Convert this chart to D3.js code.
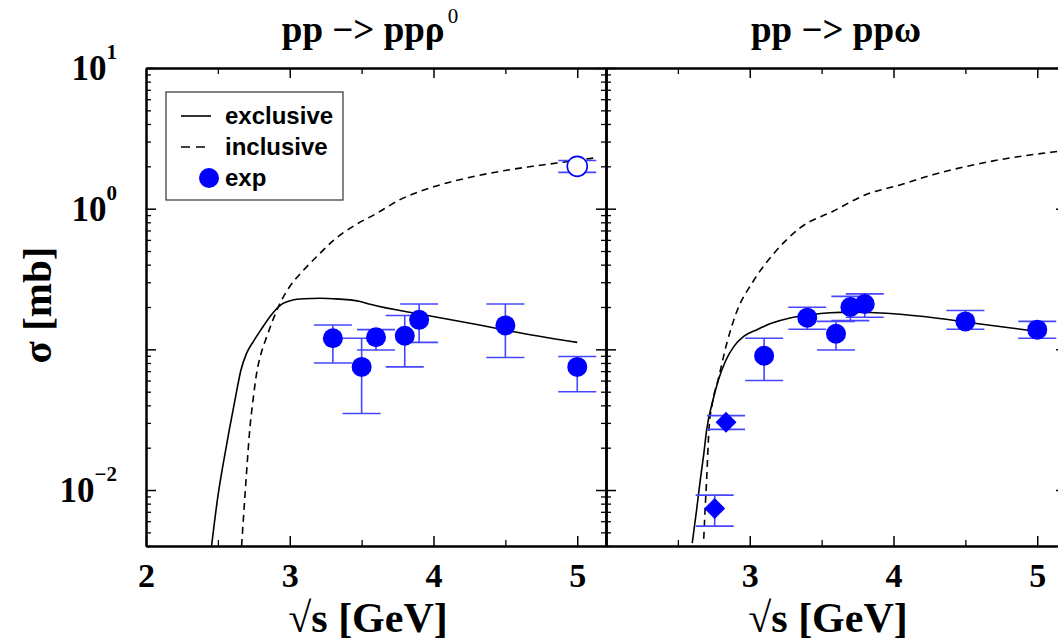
<!DOCTYPE html>
<html><head><meta charset="utf-8">
<script src="https://cdn.jsdelivr.net/npm/d3@7"></script>
<style>body{margin:0;background:#fff;overflow:hidden}</style>
</head><body>
<svg id="c" width="1058" height="642"></svg>
<script>
// ---- data ----
const xTicksMajor = [2, 3, 4, 5];
const xTicksMinor = [2.5, 3.5, 4.5];
const xLabelsLeft = [2, 3, 4, 5];
const xLabelsRight = [3, 4, 5];
const yTicksMajor = [0.01, 0.1, 1, 10];
const yTicksMinor = [0.004,0.005,0.006,0.007,0.008,0.009,0.02,0.03,0.04,0.05,0.06,0.07,0.08,0.09,0.2,0.3,0.4,0.5,0.6,0.7,0.8,0.9,2,3,4,5,6,7,8,9];
const yLabelExps = [1, 0, -2];

const rhoExclX = [2.456, 2.50, 2.54, 2.58, 2.625, 2.66, 2.70, 2.75, 2.80, 2.87, 2.94, 3.02, 3.1, 3.21, 3.3, 3.49, 3.56, 3.93, 4.32, 4.55, 5.0];
const rhoExclY = [0.004, 0.009, 0.016, 0.027, 0.047, 0.071, 0.094, 0.115, 0.138, 0.175, 0.208, 0.224, 0.229, 0.231, 0.229, 0.219, 0.209, 0.176, 0.149, 0.134, 0.112];
const rhoInclX = [2.665, 2.688, 2.705, 2.722, 2.745, 2.77, 2.80, 2.84, 2.93, 3.0, 3.09, 3.2, 3.3, 3.45, 3.6, 3.76, 4.0, 4.23, 4.46, 4.69, 4.9, 5.13];
const rhoInclY = [0.004, 0.009, 0.016, 0.027, 0.044, 0.068, 0.093, 0.123, 0.21, 0.28, 0.36, 0.47, 0.59, 0.76, 0.92, 1.15, 1.43, 1.65, 1.84, 2.0, 2.14, 2.3];
const omegaExclX = [2.60, 2.63, 2.656, 2.68, 2.70, 2.745, 2.783, 2.83, 2.89, 2.96, 3.05, 3.15, 3.28, 3.42, 3.56, 3.7, 3.84, 4.0, 4.21, 4.55, 5.0];
const omegaExclY = [0.0042, 0.0072, 0.0118, 0.018, 0.0267, 0.044, 0.061, 0.082, 0.105, 0.124, 0.138, 0.153, 0.167, 0.176, 0.182, 0.184, 0.183, 0.179, 0.171, 0.154, 0.134];
const omegaInclX = [2.68, 2.69, 2.70, 2.716, 2.74, 2.78, 2.84, 2.91, 3.02, 3.16, 3.35, 3.58, 3.81, 4.05, 4.28, 4.51, 4.74, 5.11, 5.2];
const omegaInclY = [0.0045, 0.0075, 0.0118, 0.0267, 0.0414, 0.0607, 0.11, 0.186, 0.30, 0.47, 0.73, 0.96, 1.26, 1.48, 1.75, 2.0, 2.23, 2.53, 2.6];

const rhoExpX  = [3.3, 3.5, 3.6, 3.8, 3.9, 4.5, 5.0];
const rhoExpY  = [0.120, 0.075, 0.122, 0.125, 0.162, 0.148, 0.075];
const rhoExpHi = [0.149, 0.120, 0.138, 0.174, 0.210, 0.210, 0.089];
const rhoExpLo = [0.080, 0.035, 0.099, 0.075, 0.112, 0.0875, 0.050];
const rhoOpenX = [5.0], rhoOpenY = [2.0], rhoOpenHi = [2.2], rhoOpenLo = [1.81];

const omegaExpX  = [3.1, 3.4, 3.6, 3.7, 3.8, 4.5, 5.0];
const omegaExpY  = [0.090, 0.168, 0.129, 0.200, 0.210, 0.158, 0.138];
const omegaExpHi = [0.120, 0.199, 0.158, 0.238, 0.248, 0.189, 0.158];
const omegaExpLo = [0.060, 0.139, 0.099, 0.160, 0.169, 0.139, 0.120];
const omegaDiaX  = [2.835, 2.756];
const omegaDiaY  = [0.0303, 0.0074];
const omegaDiaHi = [0.0338, 0.0092];
const omegaDiaLo = [0.0270, 0.00554];

const legendLabels = ["exclusive", "inclusive", "exp"];

// ---- drawing ----
const svg = d3.select('#c');
const Y0 = 68, Y1 = 546;
const y = d3.scaleLog().domain([0.004, 10]).range([Y1, Y0]);
const serif = '"Liberation Serif","Times New Roman",serif';
const sans = '"Liberation Sans",Arial,Helvetica,sans-serif';
const BLUE = '#0000ff', EBLUE = '#4646ff';

const panels = [
  {x0:146, x1:606, title:'pp −> ppρ', sup:'0', labels:xLabelsLeft,
   excl:[rhoExclX, rhoExclY], incl:[rhoInclX, rhoInclY],
   pts:[{X:rhoExpX,Y:rhoExpY,H:rhoExpHi,L:rhoExpLo,kind:'dot'},
        {X:rhoOpenX,Y:rhoOpenY,H:rhoOpenHi,L:rhoOpenLo,kind:'open'}]},
  {x0:606, x1:1066, title:'pp −> ppω', sup:'', labels:xLabelsRight,
   excl:[omegaExclX, omegaExclY], incl:[omegaInclX, omegaInclY],
   pts:[{X:omegaExpX,Y:omegaExpY,H:omegaExpHi,L:omegaExpLo,kind:'dot'},
        {X:omegaDiaX,Y:omegaDiaY,H:omegaDiaHi,L:omegaDiaLo,kind:'dia'}]}
];

panels.forEach((p, i) => {
  const x = d3.scaleLinear().domain([2, 5.2]).range([p.x0, p.x1]);
  const g = svg.append('g');
  const cid = 'clip' + i;
  svg.append('clipPath').attr('id', cid).append('rect')
    .attr('x', p.x0).attr('y', Y0).attr('width', p.x1 - p.x0).attr('height', Y1 - Y0);

  // axes
  const axG = g.append('g');
  const styleAx = (sel, w) => { sel.selectAll('path').attr('stroke','#000').attr('stroke-width',2);
                                sel.selectAll('line').attr('stroke','#000').attr('stroke-width',w); };
  let a = axG.append('g').attr('transform',`translate(0,${Y1})`)
    .call(d3.axisBottom(x).tickValues(xTicksMajor).tickSizeInner(-10).tickSizeOuter(0).tickPadding(17)
      .tickFormat(d => p.labels.includes(d) ? d : ''));
  styleAx(a, 1.5);
  a.selectAll('text').attr('font-family', serif).attr('font-weight','bold').attr('font-size',34).attr('fill','#000');
  a = axG.append('g').attr('transform',`translate(0,${Y1})`)
    .call(d3.axisBottom(x).tickValues(xTicksMinor).tickSizeInner(-6).tickSizeOuter(0).tickFormat(''));
  styleAx(a, 1.3);
  a = axG.append('g').attr('transform',`translate(0,${Y0})`)
    .call(d3.axisTop(x).tickValues(xTicksMajor).tickSizeInner(-10).tickSizeOuter(0).tickFormat(''));
  styleAx(a, 1.5);
  a = axG.append('g').attr('transform',`translate(0,${Y0})`)
    .call(d3.axisTop(x).tickValues(xTicksMinor).tickSizeInner(-6).tickSizeOuter(0).tickFormat(''));
  styleAx(a, 1.3);
  a = axG.append('g').attr('transform',`translate(${p.x0},0)`)
    .call(d3.axisRight(y).tickValues(yTicksMajor).tickSizeInner(10).tickSizeOuter(0).tickFormat(''));
  styleAx(a, 1.5);
  a = axG.append('g').attr('transform',`translate(${p.x0},0)`)
    .call(d3.axisRight(y).tickValues(yTicksMinor).tickSizeInner(5).tickSizeOuter(0).tickFormat(''));
  styleAx(a, 1.3);
  a = axG.append('g').attr('transform',`translate(${p.x1},0)`)
    .call(d3.axisLeft(y).tickValues(yTicksMajor).tickSizeInner(10).tickSizeOuter(0).tickFormat(''));
  styleAx(a, 1.5);
  a = axG.append('g').attr('transform',`translate(${p.x1},0)`)
    .call(d3.axisLeft(y).tickValues(yTicksMinor).tickSizeInner(5).tickSizeOuter(0).tickFormat(''));
  styleAx(a, 1.3);

  // curves
  const cg = g.append('g').attr('clip-path', `url(#${cid})`);
  const line = d3.line().x(d => x(d[0])).y(d => y(d[1])).curve(d3.curveMonotoneX);
  cg.append('path').datum(d3.zip(p.excl[0], p.excl[1])).attr('d', line)
    .attr('fill','none').attr('stroke','#000').attr('stroke-width',1.6);
  cg.append('path').datum(d3.zip(p.incl[0], p.incl[1])).attr('d', line)
    .attr('fill','none').attr('stroke','#000').attr('stroke-width',1.6).attr('stroke-dasharray','7,5');

  // error bars + markers
  const pg = g.append('g').attr('clip-path', `url(#${cid})`);
  p.pts.forEach(s => {
    const rows = s.X.map((xx, k) => ({x:xx, y:s.Y[k], hi:s.H[k], lo:s.L[k]}));
    const eb = pg.append('g').attr('stroke', EBLUE).attr('stroke-width', 1.6).attr('fill','none');
    rows.forEach(r => {
      eb.append('line').attr('x1',x(r.x)).attr('x2',x(r.x)).attr('y1',y(r.hi)).attr('y2',y(r.lo));
      eb.append('line').attr('x1',x(r.x)-19).attr('x2',x(r.x)+19).attr('y1',y(r.hi)).attr('y2',y(r.hi));
      eb.append('line').attr('x1',x(r.x)-19).attr('x2',x(r.x)+19).attr('y1',y(r.lo)).attr('y2',y(r.lo));
    });
    if (s.kind === 'dot') {
      pg.selectAll(null).data(rows).enter().append('circle')
        .attr('cx', d => x(d.x)).attr('cy', d => y(d.y)).attr('r', 10).attr('fill', BLUE);
    } else if (s.kind === 'open') {
      pg.selectAll(null).data(rows).enter().append('circle')
        .attr('cx', d => x(d.x)).attr('cy', d => y(d.y)).attr('r', 10)
        .attr('fill', '#fff').attr('stroke', BLUE).attr('stroke-width', 1.6);
    } else {
      pg.selectAll(null).data(rows).enter().append('path')
        .attr('d', d3.symbol(d3.symbolSquare, 220)())
        .attr('transform', d => `translate(${x(d.x)},${y(d.y)}) rotate(45)`).attr('fill', BLUE);
    }
  });

  // titles
  const t = svg.append('text').attr('x', (p.x0 + p.x1) / 2 - (p.sup ? 6 : 0)).attr('y', 42)
    .attr('text-anchor','middle').attr('font-family', serif).attr('font-weight','bold').attr('font-size', 37);
  t.append('tspan').text(p.title);
  if (p.sup) t.append('tspan').attr('dx', 3).attr('dy', -19).attr('font-size', 21).attr('font-weight','normal').text(p.sup);

  svg.append('text').attr('x', (p.x0 + p.x1) / 2 - 8).attr('y', 632).attr('text-anchor','middle')
    .attr('font-family', serif).attr('font-weight','bold').attr('font-size', 42).text('√s [GeV]');
});

// y tick labels
yLabelExps.forEach(e => {
  const t = svg.append('text').attr('x', 117).attr('y', y(Math.pow(10, e)) + 12)
    .attr('text-anchor','end').attr('font-family', serif).attr('font-weight','bold').attr('font-size', 35);
  t.append('tspan').text('10');
  t.append('tspan').attr('dy', -21).attr('font-size', 21).text(e < 0 ? '−' + (-e) : String(e));
});

// y axis title
svg.append('text').attr('transform', 'translate(51,305) rotate(-90)').attr('text-anchor','middle')
  .attr('font-family', serif).attr('font-weight','bold').attr('font-size', 41).text('σ [mb]');

// legend
const lg = svg.append('g');
lg.append('rect').attr('x',166).attr('y',92).attr('width',177).attr('height',108)
  .attr('fill','#fff').attr('stroke','#333').attr('stroke-width',1.2);
const ly = [116, 147, 178];
lg.append('line').attr('x1',181).attr('x2',211).attr('y1',ly[0]).attr('y2',ly[0]).attr('stroke','#000').attr('stroke-width',1.6);
lg.append('line').attr('x1',181).attr('x2',211).attr('y1',ly[1]).attr('y2',ly[1]).attr('stroke','#000').attr('stroke-width',1.6).attr('stroke-dasharray','9,6');
lg.append('circle').attr('cx',209).attr('cy',ly[2]).attr('r',10).attr('fill',BLUE);
legendLabels.forEach((s, k) => {
  lg.append('text').attr('x',225).attr('y',ly[k] + 8).attr('font-family', sans).attr('font-weight','bold')
    .attr('font-size',24).attr('fill','#000').text(s);
});
</script>
</body></html>
